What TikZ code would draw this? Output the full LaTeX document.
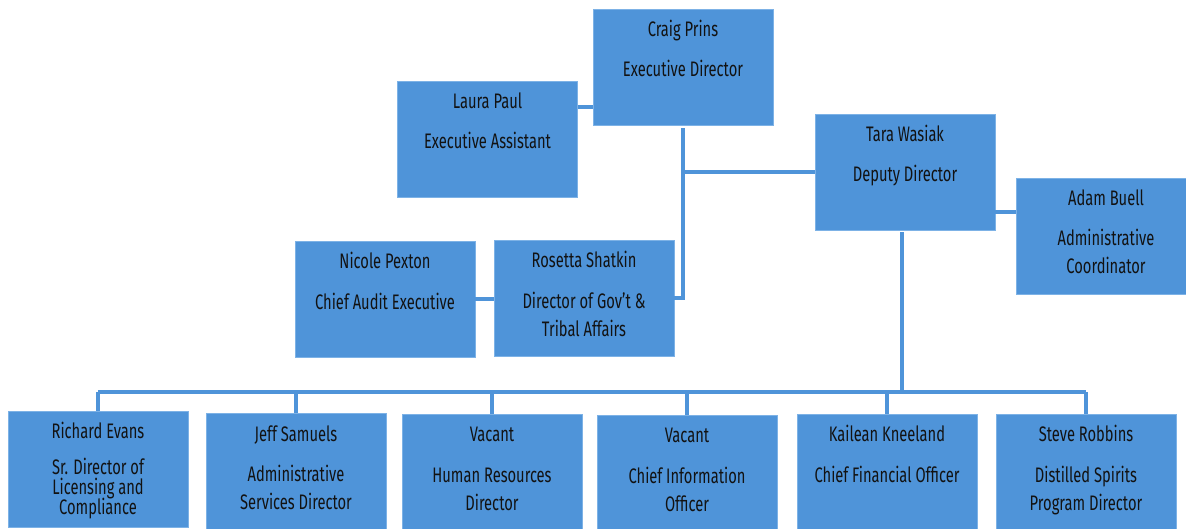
\documentclass[tikz,border=0pt]{standalone}
\usepackage{fontspec}
\setmainfont[FakeStretch=0.7]{Fira Sans}
\usepackage{tikz}
\definecolor{boxblue}{RGB}{79,148,217}
\definecolor{edgeblue}{RGB}{125,178,230}
\definecolor{textblack}{RGB}{18,18,18}
\newcommand{\staff}[3][12.5pt]{\begin{minipage}[t][116pt][t]{180pt}\centering\rule{0pt}{27.5pt}#2\\[#1]#3\end{minipage}}

\begin{document}
\begin{tikzpicture}[x=1pt, y=-1pt,
    orgbox/.style={fill=boxblue, draw=edgeblue, line width=0.6pt, inner sep=0pt,
        minimum width=180pt, minimum height=116pt, text=textblack,
        font=\fontsize{21pt}{28pt}\selectfont},
    link/.style={draw=boxblue, line width=4pt}]
    \clip (0,0) rectangle (1186,529);

    % top of the chart
    \node[orgbox] (craig) at (683,67) {\staff{Craig Prins}{Executive Director}};
    \node[orgbox] (laura) at (487.5,139) {\staff{Laura Paul}{Executive Assistant}};
    \node[orgbox] (tara) at (905,172) {\staff{Tara Wasiak}{Deputy Director}};
    \node[orgbox] (adam) at (1106,236) {\staff{Adam Buell}{Administrative\\Coordinator}};
    \node[orgbox] (nicole) at (385,299.5) {\staff{Nicole Pexton}{Chief Audit Executive}};
    \node[orgbox] (rosetta) at (584,298.5) {\staff{Rosetta Shatkin}{Director of Gov’t \&\\Tribal Affairs}};

    % bottom row
    \node[orgbox] (richard) at (98,469) {\staff[7.5pt]{Richard Evans}{Sr. Director of\\[-8pt]Licensing and\\[-8pt]Compliance}};
    \node[orgbox] (jeff) at (296,471.5) {\staff{Jeff Samuels}{Administrative\\Services Director}};
    \node[orgbox] (hr) at (492,472) {\staff{Vacant}{Human Resources\\Director}};
    \node[orgbox] (cio) at (687,473) {\staff{Vacant}{Chief Information\\Officer}};
    \node[orgbox] (kailean) at (887,472) {\staff{Kailean Kneeland}{Chief Financial Officer}};
    \node[orgbox] (steve) at (1086,472) {\staff{Steve Robbins}{Distilled Spirits\\Program Director}};

    % connectors
    \coordinate (laurajoin) at ([yshift=32pt]laura.east);
    \coordinate (adamjoin) at ([yshift=-40pt]tara.east);
    \coordinate (bus) at (0,392);
    \draw[link] (laurajoin) -- (laurajoin -| craig.west);
    \draw[link] ([yshift=-3pt]craig.south) |- (rosetta.east);
    \draw[link] (tara.west) -- (tara.west -| craig.south);
    \draw[link] (adamjoin) -- (adamjoin -| adam.west);
    \draw[link] (nicole.east) -- (nicole.east -| rosetta.west);
    \draw[link] ([xshift=-3pt,yshift=-2pt]tara.south) -- ([xshift=-3pt]tara.south |- bus);
    \draw[link] (bus -| richard.north) -- (bus -| steve.north);
    \foreach \n in {richard,jeff,hr,cio,kailean,steve}
        \draw[link] (bus -| \n.north) -- (\n.north);
\end{tikzpicture}
\end{document}
